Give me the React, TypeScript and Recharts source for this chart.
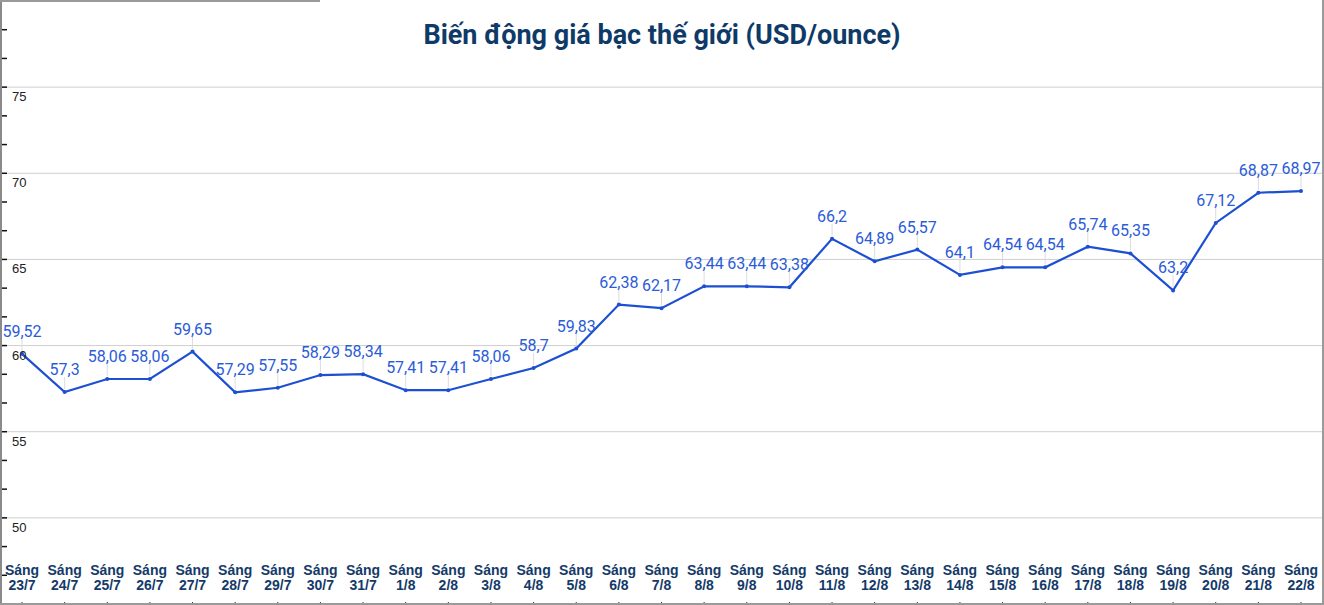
import React from 'react';
import { LineChart, Line, XAxis, YAxis, ReferenceLine, LabelList } from 'recharts';

const dates = [
  '23/7', '24/7', '25/7', '26/7', '27/7', '28/7', '29/7', '30/7', '31/7',
  '1/8', '2/8', '3/8', '4/8', '5/8', '6/8', '7/8', '8/8', '9/8', '10/8', '11/8',
  '12/8', '13/8', '14/8', '15/8', '16/8', '17/8', '18/8', '19/8', '20/8', '21/8', '22/8',
];

const prices = [
  59.52, 57.3, 58.06, 58.06, 59.65, 57.29, 57.55, 58.29, 58.34,
  57.41, 57.41, 58.06, 58.7, 59.83, 62.38, 62.17, 63.44, 63.44, 63.38, 66.2,
  64.89, 65.57, 64.1, 64.54, 64.54, 65.74, 65.35, 63.2, 67.12, 68.87, 68.97,
];

const gridValues = [50, 55, 60, 65, 70, 75];
// minor tick marks every 5/3 between 45 and 80
const yTicks = Array.from({ length: 22 }, (_, i) => 45 + (i * 5) / 3);

const data = dates.map((d, i) => ({ date: d, price: prices[i] }));

const LINE_COLOR = '#1c4fd2';
const LABEL_COLOR = '#2a5cd8';
const NAVY = '#143a69';

const YTick = ({ x, y, payload }: any) => {
  const v = payload.value;
  const isMajor = Math.abs(v / 5 - Math.round(v / 5)) < 1e-6 && v >= 50 && v <= 75;
  if (!isMajor) return null;
  return (
    <text x={x + 2} y={y + 14} fontSize={13} fill="#222" fontFamily="Liberation Sans, Arial, sans-serif">
      {Math.round(v)}
    </text>
  );
};

const XTick = ({ x, y, payload }: any) => (
  <text textAnchor="middle" fontSize={14} fontWeight={700} fill={NAVY} fontFamily="Liberation Sans, Arial, sans-serif">
    <tspan x={x} y={y - 27}>Sáng</tspan>
    <tspan x={x} y={y - 12}>{payload.value}</tspan>
  </text>
);

const PriceLabel = ({ x, y, value }: any) => (
  <g>
    <line x1={x} x2={x} y1={y - 15} y2={y - 3} stroke="#dcdcdc" strokeWidth={1} />
    <text x={x} y={y - 17} textAnchor="middle" fontSize={16} fill={LABEL_COLOR} fontFamily="Roboto, sans-serif">
      {String(value).replace('.', ',')}
    </text>
  </g>
);

export default function App() {
  return (
    <div style={{ position: 'relative', width: 1324, height: 605, background: '#fff', overflow: 'hidden' }}>
      <style>{`body{margin:0}`}</style>
      <LineChart width={1324} height={605} data={data} margin={{ top: 1, right: 2, bottom: 1, left: 1 }}>
        {gridValues.map((v) => (
          <ReferenceLine key={v} y={v} stroke="#cfcfcf" strokeWidth={1} />
        ))}
        <XAxis
          dataKey="date"
          height={1}
          mirror
          interval={0}
          padding={{ left: 21, right: 21 }}
          axisLine={false}
          tickSize={2}
          tickMargin={0}
          tickLine={{ stroke: '#333' }}
          tick={<XTick />}
        />
        <YAxis
          type="number"
          domain={[45, 80]}
          ticks={yTicks}
          interval={0}
          allowDataOverflow
          mirror
          width={1}
          tickSize={6}
          tickMargin={3}
          axisLine={{ stroke: '#111', strokeWidth: 1.5 }}
          tickLine={{ stroke: '#111', strokeWidth: 1.5 }}
          tick={<YTick />}
        />
        <Line
          type="linear"
          dataKey="price"
          stroke={LINE_COLOR}
          strokeWidth={2.2}
          dot={{ r: 2, fill: LINE_COLOR, stroke: LINE_COLOR, strokeWidth: 0 }}
          activeDot={false}
          isAnimationActive={false}
        >
          <LabelList dataKey="price" content={<PriceLabel />} />
        </Line>
      </LineChart>
      <div
        style={{
          position: 'absolute', top: 19, left: 0, width: 1324, textAlign: 'center',
          fontFamily: 'Roboto, sans-serif', fontWeight: 700, fontSize: 27, color: '#0f3a68',
        }}
      >
        Biến động giá bạc thế giới (USD/ounce)
      </div>
      <div style={{ position: 'absolute', left: 0, top: 0, width: 2, height: 605, background: '#8a8a8a' }} />
      <div style={{ position: 'absolute', right: 0, top: 0, width: 2, height: 605, background: '#9a9a9a' }} />
      <div style={{ position: 'absolute', left: 0, bottom: 0, width: 1324, height: 2, background: '#9a9a9a' }} />
      <div style={{ position: 'absolute', left: 0, top: 0, width: 320, height: 2, background: '#9a9a9a' }} />
    </div>
  );
}
